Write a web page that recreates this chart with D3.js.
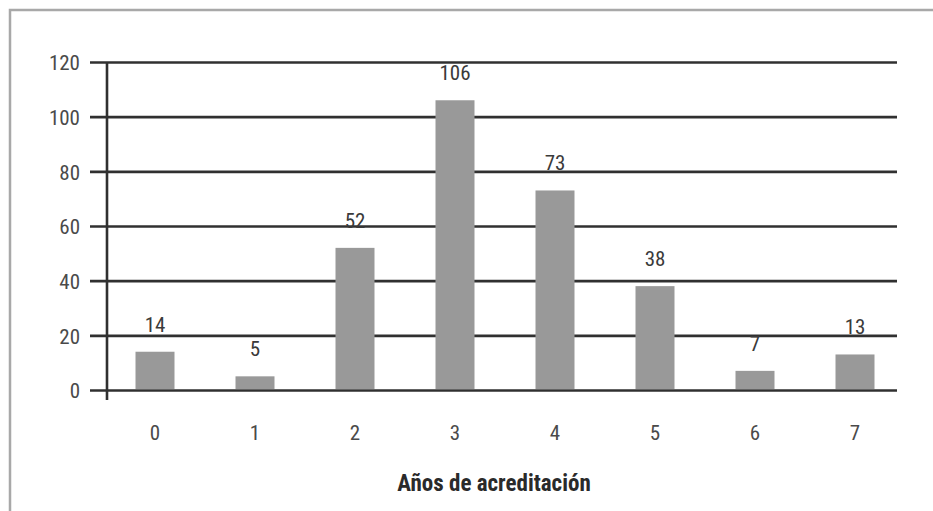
<!DOCTYPE html>
<html>
<head>
<meta charset="utf-8">
<script src="https://cdn.jsdelivr.net/npm/d3@7"></script>
<style>
  html, body { margin: 0; padding: 0; background: #fff; }
  svg { display: block; }
  text { font-family: "Roboto Condensed", "Liberation Sans Narrow", sans-serif; }
</style>
</head>
<body>
<svg id="chart" width="933" height="511"></svg>
<script>
// Number of accredited programmes by years of accreditation
const years = ["0", "1", "2", "3", "4", "5", "6", "7"];
const counts = [14, 5, 52, 106, 73, 38, 7, 13];
const yTicks = [0, 20, 40, 60, 80, 100, 120];
const xTitle = "Años de acreditación";

const svg = d3.select("#chart");
const W = 933, H = 511;

// outer frame: top and left edges only
svg.append("path")
  .attr("d", `M10,${H} L10,10 L${W},10`)
  .attr("fill", "none")
  .attr("stroke", "#a8a8a8")
  .attr("stroke-width", 2.5);

const axisX = 107, gridLeft = 90, gridRight = 897;

const y = d3.scaleLinear().domain([0, 120]).range([390, 62]);
const x = d3.scaleBand().domain(years).range([105, 905])
  .paddingInner(0.61).paddingOuter(0.305);

// horizontal grid lines, extending left of the axis as ticks
const yAxis = d3.axisLeft(y).tickValues(yTicks)
  .tickSize(-(gridRight - gridLeft)).tickPadding(10).tickFormat(d3.format("d"));
const gy = svg.append("g")
  .attr("transform", `translate(${gridLeft},0)`)
  .call(yAxis);
gy.select(".domain").remove();
gy.selectAll(".tick line")
  .attr("stroke", "#303030")
  .attr("stroke-width", 2.6);
gy.selectAll(".tick text")
  .attr("fill", "#4a4a4a")
  .attr("font-size", 21)
  .attr("x", -10)
  .attr("dy", "0.38em");

// vertical axis line
svg.append("line")
  .attr("x1", axisX).attr("x2", axisX)
  .attr("y1", y(120)).attr("y2", y(0) + 10)
  .attr("stroke", "#303030").attr("stroke-width", 2.6);

// bars
svg.append("g").selectAll("rect")
  .data(counts)
  .join("rect")
  .attr("x", (d, i) => x(years[i]))
  .attr("width", x.bandwidth())
  .attr("y", d => y(d))
  .attr("height", d => y(0) - y(d) - 1)
  .attr("fill", "#999");

// value labels
svg.append("g").selectAll("text")
  .data(counts)
  .join("text")
  .attr("x", (d, i) => x(years[i]) + x.bandwidth() / 2)
  .attr("y", d => y(d) - 20)
  .attr("text-anchor", "middle")
  .attr("fill", "#3a3a3a")
  .attr("font-size", 21)
  .text(d => d);

// category axis labels
const xAxis = d3.axisBottom(x).tickSize(0).tickPadding(0);
const gx = svg.append("g")
  .attr("transform", "translate(0,425)")
  .call(xAxis);
gx.select(".domain").remove();
gx.selectAll(".tick text")
  .attr("fill", "#4a4a4a")
  .attr("font-size", 21)
  .attr("dy", "0.71em");

// axis title
svg.append("text")
  .attr("x", 494)
  .attr("y", 491)
  .attr("text-anchor", "middle")
  .attr("fill", "#2a2a2a")
  .attr("font-size", 23)
  .attr("font-weight", "bold")
  .text(xTitle);
</script>
</body>
</html>
